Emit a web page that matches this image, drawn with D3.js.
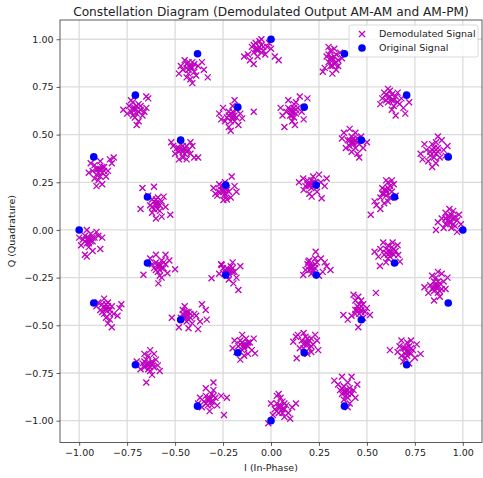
<!DOCTYPE html>
<html>
<head>
<meta charset="utf-8">
<script src="https://d3js.org/d3.v7.min.js"></script>
<style>
  body { margin: 0; background: #fff; }
  text { font-family: "DejaVu Sans", sans-serif; fill: #222; }
</style>
</head>
<body>
<div id="chart"></div>
<script>
// original 32-APSK symbols
var origI = [1.000, 0.924, 0.707, 0.383, 0.000, -0.383, -0.707, -0.924, -1.000, -0.924, -0.707, -0.383, 0.000, 0.383, 0.707, 0.924,
             0.644, 0.471, 0.173, -0.173, -0.471, -0.644, -0.644, -0.471, -0.173, 0.173, 0.471, 0.644,
             0.236, -0.236, -0.236, 0.236];
var origQ = [0.000, 0.383, 0.707, 0.924, 1.000, 0.924, 0.707, 0.383, 0.000, -0.383, -0.707, -0.924, -1.000, -0.924, -0.707, -0.383,
             0.173, 0.471, 0.644, 0.644, 0.471, 0.173, -0.173, -0.471, -0.644, -0.644, -0.471, -0.173,
             0.236, 0.236, -0.236, -0.236];

// demodulated points [I, Q], one line per cluster
var demodulated = [
  [0.93,0.04],[0.95,0.06],[0.91,0.03],[0.97,0.05],[0.94,0.08],[0.89,0.06],[0.96,0.02],[0.92,0.07],[0.98,0.08],[0.90,0.01],[0.94,0.01],[0.87,0.04],[0.99,0.03],[0.95,0.10],[0.91,0.09],[0.86,0.00],[0.97,-0.01],[0.93,0.11],[0.92,0.05],[0.94,0.04],[0.93,0.07],[0.95,0.03],[0.91,0.06],[0.96,0.07],
  [0.85,0.41],[0.87,0.43],[0.83,0.39],[0.88,0.38],[0.81,0.42],[0.86,0.46],[0.90,0.42],[0.79,0.37],[0.84,0.45],[0.89,0.47],[0.82,0.36],[0.92,0.44],[0.86,0.35],[0.80,0.45],[0.87,0.49],[0.78,0.40],[0.91,0.39],[0.84,0.33],[0.84,0.42],[0.86,0.40],[0.85,0.43],[0.83,0.41],[0.87,0.41],[0.85,0.38],
  [0.63,0.68],[0.65,0.70],[0.61,0.67],[0.64,0.65],[0.60,0.71],[0.67,0.66],[0.62,0.73],[0.66,0.72],[0.58,0.69],[0.69,0.64],[0.63,0.63],[0.61,0.74],[0.68,0.69],[0.57,0.66],[0.70,0.61],[0.65,0.60],[0.59,0.72],[0.72,0.67],[0.62,0.70],[0.64,0.68],[0.61,0.69],[0.63,0.71],[0.60,0.68],[0.66,0.67],
  [0.32,0.90],[0.34,0.92],[0.30,0.88],[0.33,0.87],[0.31,0.94],[0.35,0.89],[0.29,0.91],[0.33,0.95],[0.36,0.93],[0.28,0.85],[0.31,0.86],[0.34,0.84],[0.30,0.96],[0.37,0.90],[0.27,0.83],[0.32,0.82],[0.35,0.86],[0.32,0.89],[0.33,0.91],[0.31,0.90],[0.34,0.88],[0.30,0.92],[0.32,0.86],
  [-0.07,0.95],[-0.05,0.97],[-0.09,0.93],[-0.04,0.94],[-0.10,0.96],[-0.06,0.99],[-0.02,0.96],[-0.08,0.98],[-0.12,0.92],[-0.03,0.92],[-0.07,0.91],[-0.11,0.89],[0.00,0.95],[-0.14,0.91],[0.02,0.91],[-0.09,0.87],[0.04,0.89],[-0.05,1.00],[-0.01,0.98],[-0.07,0.94],[-0.06,0.96],[-0.08,0.95],[-0.05,0.93],[-0.09,0.97],[-0.04,0.96],
  [-0.42,0.85],[-0.44,0.87],[-0.40,0.83],[-0.43,0.82],[-0.45,0.89],[-0.41,0.88],[-0.46,0.84],[-0.38,0.86],[-0.42,0.79],[-0.44,0.80],[-0.39,0.81],[-0.47,0.86],[-0.36,0.88],[-0.35,0.84],[-0.41,0.77],[-0.48,0.82],[-0.33,0.80],[-0.42,0.86],[-0.43,0.84],[-0.41,0.85],[-0.44,0.85],[-0.40,0.87],[-0.43,0.88],
  [-0.71,0.64],[-0.69,0.66],[-0.73,0.62],[-0.70,0.61],[-0.72,0.67],[-0.68,0.63],[-0.74,0.65],[-0.71,0.59],[-0.67,0.60],[-0.75,0.61],[-0.69,0.57],[-0.65,0.64],[-0.77,0.63],[-0.70,0.55],[-0.64,0.69],[-0.73,0.68],[-0.66,0.62],[-0.65,0.70],[-0.71,0.63],[-0.70,0.65],[-0.72,0.64],[-0.69,0.62],[-0.72,0.60],[-0.68,0.65],
  [-0.90,0.32],[-0.92,0.34],[-0.88,0.30],[-0.91,0.29],[-0.93,0.31],[-0.87,0.33],[-0.89,0.36],[-0.85,0.31],[-0.94,0.35],[-0.86,0.28],[-0.90,0.26],[-0.83,0.35],[-0.84,0.37],[-0.92,0.27],[-0.95,0.30],[-0.88,0.24],[-0.82,0.38],[-0.91,0.23],[-0.89,0.32],[-0.90,0.30],[-0.88,0.33],[-0.91,0.32],[-0.87,0.31],[-0.89,0.28],
  [-0.95,-0.05],[-0.97,-0.03],[-0.93,-0.06],[-0.96,-0.07],[-0.94,-0.02],[-0.98,-0.05],[-0.92,-0.04],[-0.95,-0.09],[-0.99,-0.08],[-0.91,-0.01],[-0.96,0.00],[-0.93,-0.11],[-0.97,-0.13],[-0.90,-0.03],[-0.88,-0.04],[-1.00,-0.04],[-0.96,-0.14],[-0.89,-0.10],[-0.95,-0.04],[-0.94,-0.06],[-0.96,-0.05],[-0.93,-0.04],[-0.97,-0.06],[-0.95,-0.07],
  [-0.86,-0.41],[-0.88,-0.39],[-0.84,-0.42],[-0.87,-0.44],[-0.85,-0.38],[-0.89,-0.42],[-0.83,-0.40],[-0.86,-0.46],[-0.90,-0.38],[-0.82,-0.44],[-0.87,-0.36],[-0.84,-0.47],[-0.79,-0.41],[-0.80,-0.45],[-0.85,-0.49],[-0.91,-0.40],[-0.83,-0.51],[-0.78,-0.39],[-0.86,-0.42],[-0.85,-0.40],[-0.87,-0.41],[-0.84,-0.44],[-0.88,-0.43],[-0.86,-0.39],
  [-0.64,-0.71],[-0.62,-0.69],[-0.66,-0.72],[-0.63,-0.74],[-0.65,-0.68],[-0.61,-0.72],[-0.67,-0.70],[-0.64,-0.66],[-0.60,-0.68],[-0.68,-0.73],[-0.62,-0.76],[-0.66,-0.65],[-0.59,-0.71],[-0.70,-0.69],[-0.63,-0.63],[-0.58,-0.74],[-0.65,-0.80],[-0.61,-0.65],[-0.64,-0.70],[-0.63,-0.72],[-0.65,-0.71],[-0.62,-0.70],[-0.66,-0.69],[-0.64,-0.73],
  [-0.32,-0.89],[-0.34,-0.87],[-0.30,-0.90],[-0.33,-0.92],[-0.31,-0.86],[-0.35,-0.90],[-0.29,-0.88],[-0.36,-0.93],[-0.32,-0.95],[-0.28,-0.92],[-0.30,-0.84],[-0.37,-0.88],[-0.26,-0.87],[-0.34,-0.83],[-0.30,-0.80],[-0.23,-0.88],[-0.245,-0.97],[-0.38,-0.91],[-0.32,-0.88],[-0.31,-0.90],[-0.33,-0.89],[-0.30,-0.87],[-0.34,-0.91],[-0.31,-0.92],
  [0.05,-0.93],[0.03,-0.91],[0.07,-0.94],[0.04,-0.96],[0.06,-0.90],[0.02,-0.94],[0.08,-0.92],[0.05,-0.88],[0.01,-0.97],[0.09,-0.96],[0.03,-0.87],[0.11,-0.93],[0.00,-0.91],[0.13,-0.91],[0.07,-0.98],[0.10,-0.99],[0.04,-0.86],[-0.014,-1.014],[0.05,-0.92],[0.06,-0.94],[0.04,-0.93],[0.07,-0.91],[0.03,-0.95],[0.06,-0.96],
  [0.39,-0.85],[0.41,-0.83],[0.37,-0.86],[0.40,-0.88],[0.38,-0.82],[0.42,-0.86],[0.36,-0.84],[0.40,-0.80],[0.43,-0.84],[0.38,-0.89],[0.35,-0.81],[0.44,-0.88],[0.41,-0.91],[0.33,-0.79],[0.42,-0.77],[0.37,-0.77],[0.45,-0.81],[0.40,-0.93],[0.39,-0.84],[0.40,-0.86],[0.38,-0.85],[0.41,-0.85],[0.39,-0.87],[0.37,-0.83],
  [0.71,-0.64],[0.69,-0.62],[0.73,-0.65],[0.70,-0.67],[0.72,-0.61],[0.68,-0.66],[0.74,-0.63],[0.71,-0.59],[0.67,-0.61],[0.75,-0.67],[0.69,-0.69],[0.73,-0.58],[0.76,-0.60],[0.66,-0.64],[0.78,-0.65],[0.62,-0.63],[0.72,-0.70],[0.68,-0.58],[0.71,-0.63],[0.70,-0.65],[0.72,-0.64],[0.70,-0.62],[0.73,-0.62],[0.71,-0.66],
  [0.86,-0.30],[0.88,-0.28],[0.84,-0.31],[0.87,-0.33],[0.85,-0.27],[0.89,-0.31],[0.83,-0.29],[0.86,-0.25],[0.90,-0.27],[0.82,-0.33],[0.88,-0.35],[0.84,-0.24],[0.91,-0.31],[0.80,-0.30],[0.87,-0.22],[0.92,-0.25],[0.85,-0.37],[0.89,-0.23],[0.86,-0.29],[0.87,-0.30],[0.85,-0.30],[0.87,-0.27],[0.85,-0.32],[0.88,-0.32],
  [0.60,0.21],[0.62,0.23],[0.59,0.19],[0.61,0.25],[0.63,0.20],[0.58,0.22],[0.60,0.26],[0.64,0.24],[0.57,0.17],[0.62,0.17],[0.59,0.14],[0.55,0.13],[0.57,0.11],[0.61,0.15],[0.65,0.18],[0.52,0.08],[0.63,0.26],[0.54,0.15],[0.60,0.20],[0.61,0.22],[0.59,0.21],[0.62,0.21],[0.60,0.18],[0.58,0.19],
  [0.43,0.46],[0.45,0.48],[0.41,0.44],[0.44,0.43],[0.42,0.49],[0.46,0.45],[0.40,0.47],[0.44,0.51],[0.47,0.49],[0.39,0.43],[0.42,0.41],[0.45,0.40],[0.37,0.48],[0.48,0.43],[0.41,0.53],[0.46,0.38],[0.50,0.46],[0.38,0.51],[0.43,0.45],[0.44,0.47],[0.42,0.46],[0.45,0.46],[0.43,0.48],[0.41,0.47],
  [0.11,0.63],[0.13,0.61],[0.09,0.64],[0.12,0.66],[0.10,0.60],[0.14,0.64],[0.08,0.62],[0.09,0.68],[0.15,0.70],[0.19,0.69],[0.05,0.64],[0.07,0.54],[0.125,0.55],[0.17,0.58],[0.11,0.57],[0.16,0.62],[0.06,0.60],[0.13,0.67],[0.11,0.62],[0.12,0.64],[0.10,0.63],[0.13,0.63],[0.11,0.60],[0.12,0.59],
  [-0.20,0.60],[-0.22,0.62],[-0.18,0.59],[-0.21,0.57],[-0.19,0.68],[-0.27,0.61],[-0.25,0.64],[-0.09,0.62],[-0.22,0.54],[-0.17,0.55],[-0.15,0.585],[-0.23,0.59],[-0.18,0.63],[-0.24,0.57],[-0.20,0.65],[-0.16,0.61],[-0.26,0.58],[-0.21,0.52],[-0.20,0.59],[-0.21,0.61],[-0.19,0.60],[-0.22,0.60],[-0.20,0.62],[-0.19,0.57],
  [-0.46,0.42],[-0.44,0.44],[-0.48,0.41],[-0.45,0.40],[-0.47,0.45],[-0.43,0.42],[-0.49,0.43],[-0.46,0.38],[-0.42,0.46],[-0.51,0.44],[-0.50,0.40],[-0.44,0.37],[-0.40,0.38],[-0.38,0.38],[-0.42,0.40],[-0.48,0.37],[-0.52,0.46],[-0.41,0.44],[-0.46,0.41],[-0.45,0.43],[-0.47,0.42],[-0.44,0.41],[-0.46,0.44],[-0.48,0.43],
  [-0.60,0.14],[-0.62,0.16],[-0.58,0.13],[-0.61,0.11],[-0.59,0.17],[-0.63,0.13],[-0.57,0.15],[-0.61,0.227],[-0.67,0.22],[-0.68,0.11],[-0.60,0.06],[-0.525,0.08],[-0.56,0.175],[-0.62,0.09],[-0.58,0.10],[-0.55,0.12],[-0.64,0.18],[-0.57,0.07],[-0.60,0.13],[-0.61,0.15],[-0.59,0.14],[-0.60,0.16],[-0.59,0.11],[-0.62,0.12],
  [-0.58,-0.19],[-0.60,-0.17],[-0.56,-0.20],[-0.59,-0.22],[-0.57,-0.16],[-0.61,-0.20],[-0.55,-0.18],[-0.60,-0.13],[-0.55,-0.13],[-0.665,-0.235],[-0.587,-0.28],[-0.50,-0.206],[-0.54,-0.227],[-0.62,-0.18],[-0.58,-0.24],[-0.63,-0.15],[-0.53,-0.16],[-0.57,-0.25],[-0.58,-0.18],[-0.57,-0.20],[-0.59,-0.19],[-0.58,-0.21],[-0.56,-0.17],[-0.60,-0.21],
  [-0.45,-0.45],[-0.43,-0.43],[-0.47,-0.46],[-0.44,-0.48],[-0.42,-0.46],[-0.46,-0.42],[-0.40,-0.44],[-0.36,-0.39],[-0.34,-0.42],[-0.335,-0.47],[-0.38,-0.52],[-0.43,-0.515],[-0.48,-0.51],[-0.517,-0.46],[-0.41,-0.49],[-0.39,-0.45],[-0.45,-0.40],[-0.37,-0.48],[-0.44,-0.45],[-0.43,-0.47],[-0.45,-0.46],[-0.42,-0.44],[-0.46,-0.44],[-0.44,-0.43],
  [-0.14,-0.60],[-0.16,-0.58],[-0.12,-0.61],[-0.15,-0.63],[-0.13,-0.57],[-0.17,-0.61],[-0.11,-0.59],[-0.15,-0.55],[-0.18,-0.64],[-0.10,-0.63],[-0.16,-0.68],[-0.083,-0.647],[-0.19,-0.58],[-0.12,-0.65],[-0.09,-0.57],[-0.20,-0.62],[-0.14,-0.66],[-0.14,-0.61],[-0.15,-0.59],[-0.13,-0.60],[-0.14,-0.62],[-0.16,-0.60],[-0.12,-0.59],
  [0.19,-0.59],[0.21,-0.57],[0.17,-0.60],[0.20,-0.62],[0.18,-0.56],[0.22,-0.60],[0.16,-0.58],[0.116,-0.586],[0.246,-0.63],[0.134,-0.673],[0.14,-0.55],[0.23,-0.55],[0.19,-0.65],[0.15,-0.62],[0.24,-0.58],[0.21,-0.64],[0.17,-0.54],[0.13,-0.56],[0.19,-0.60],[0.20,-0.58],[0.18,-0.59],[0.19,-0.57],[0.21,-0.61],[0.17,-0.62],
  [0.47,-0.42],[0.45,-0.40],[0.49,-0.43],[0.46,-0.44],[0.48,-0.39],[0.44,-0.42],[0.50,-0.41],[0.43,-0.34],[0.455,-0.35],[0.547,-0.33],[0.377,-0.446],[0.40,-0.47],[0.455,-0.51],[0.516,-0.446],[0.44,-0.37],[0.47,-0.37],[0.42,-0.45],[0.48,-0.46],[0.46,-0.41],[0.47,-0.43],[0.45,-0.42],[0.47,-0.40],[0.46,-0.39],[0.44,-0.44],
  [0.62,-0.12],[0.60,-0.10],[0.64,-0.13],[0.61,-0.15],[0.63,-0.09],[0.59,-0.13],[0.65,-0.11],[0.585,-0.066],[0.634,-0.066],[0.54,-0.114],[0.568,-0.189],[0.672,-0.166],[0.663,-0.131],[0.57,-0.10],[0.60,-0.17],[0.56,-0.14],[0.66,-0.08],[0.61,-0.08],[0.62,-0.11],[0.61,-0.13],[0.63,-0.12],[0.60,-0.12],[0.62,-0.14],[0.64,-0.10],
  [0.20,0.24],[0.22,0.25],[0.18,0.23],[0.21,0.22],[0.19,0.26],[0.23,0.23],[0.25,0.29],[0.168,0.27],[0.146,0.25],[0.212,0.175],[0.264,0.166],[0.29,0.27],[0.24,0.20],[0.17,0.21],[0.22,0.28],[0.26,0.25],[0.20,0.19],[0.28,0.23],[0.21,0.24],[0.20,0.23],[0.22,0.23],[0.21,0.26],[0.19,0.24],[0.23,0.25],
  [-0.25,0.21],[-0.23,0.22],[-0.27,0.20],[-0.24,0.19],[-0.26,0.23],[-0.22,0.20],[-0.205,0.28],[-0.30,0.22],[-0.248,0.157],[-0.18,0.20],[-0.28,0.18],[-0.24,0.25],[-0.21,0.17],[-0.27,0.24],[-0.19,0.23],[-0.23,0.16],[-0.29,0.19],[-0.25,0.20],[-0.24,0.22],[-0.26,0.21],[-0.23,0.21],[-0.25,0.23],[-0.24,0.18],
  [-0.22,-0.21],[-0.24,-0.22],[-0.20,-0.20],[-0.23,-0.24],[-0.21,-0.19],[-0.25,-0.20],[-0.19,-0.22],[-0.31,-0.253],[-0.257,-0.184],[-0.16,-0.19],[-0.196,-0.28],[-0.17,-0.315],[-0.27,-0.23],[-0.22,-0.26],[-0.18,-0.25],[-0.26,-0.18],[-0.20,-0.17],[-0.22,-0.22],[-0.23,-0.20],[-0.21,-0.21],[-0.22,-0.23],[-0.24,-0.21],[-0.20,-0.22],
  [0.21,-0.19],[0.23,-0.20],[0.19,-0.18],[0.22,-0.22],[0.20,-0.16],[0.24,-0.17],[0.233,-0.114],[0.168,-0.236],[0.194,-0.166],[0.26,-0.15],[0.29,-0.19],[0.31,-0.21],[0.27,-0.22],[0.18,-0.21],[0.25,-0.24],[0.21,-0.23],[0.23,-0.15],[0.28,-0.17],[0.21,-0.20],[0.22,-0.19],[0.20,-0.19],[0.22,-0.21],[0.23,-0.18],[0.20,-0.21]
];

var ticks = [-1.00, -0.75, -0.50, -0.25, 0.00, 0.25, 0.50, 0.75, 1.00];

var width = 483, height = 478;
var plotLeft = 60, plotRight = 482, plotTop = 20, plotBottom = 442.4;

var svg = d3.select('#chart').append('svg')
  .attr('width', width)
  .attr('height', height);

var x = d3.scaleLinear().domain([-1.1, 1.1]).range([plotLeft, plotRight]);
var y = d3.scaleLinear().domain([-1.114, 1.101]).range([plotBottom, plotTop]);

// grid
svg.append('g').selectAll('line').data(ticks).enter().append('line')
  .attr('x1', d => x(d)).attr('x2', d => x(d))
  .attr('y1', plotTop).attr('y2', plotBottom)
  .attr('stroke', '#dcdcdc').attr('stroke-width', 1.3);
svg.append('g').selectAll('line').data(ticks).enter().append('line')
  .attr('y1', d => y(d)).attr('y2', d => y(d))
  .attr('x1', plotLeft).attr('x2', plotRight)
  .attr('stroke', '#dcdcdc').attr('stroke-width', 1.3);

// axes
var fmt = d3.format('.2f');
var tickFmt = d => fmt(d).replace('-', '\u2212');
var xAxis = svg.append('g')
  .attr('transform', 'translate(0,' + plotBottom + ')')
  .call(d3.axisBottom(x).tickValues(ticks).tickFormat(tickFmt).tickSizeOuter(0).tickSize(3.5).tickPadding(3));
var yAxis = svg.append('g')
  .attr('transform', 'translate(' + plotLeft + ',0)')
  .call(d3.axisLeft(y).tickValues(ticks).tickFormat(tickFmt).tickSizeOuter(0).tickSize(3.5).tickPadding(3));
[xAxis, yAxis].forEach(function (a) {
  a.select('.domain').remove();
  a.selectAll('.tick line').attr('stroke', '#333').attr('stroke-width', 0.8);
  a.selectAll('.tick text').attr('font-size', 9.5).attr('font-family', 'DejaVu Sans').attr('fill', '#222');
});

// frame
svg.append('rect')
  .attr('x', plotLeft).attr('y', plotTop)
  .attr('width', plotRight - plotLeft).attr('height', plotBottom - plotTop)
  .attr('fill', 'none').attr('stroke', '#333').attr('stroke-width', 0.8);

// demodulated points (x markers)
var s = 3.0;
function xMark(cx, cy) {
  return 'M' + (cx - s) + ',' + (cy - s) + 'L' + (cx + s) + ',' + (cy + s) +
         'M' + (cx - s) + ',' + (cy + s) + 'L' + (cx + s) + ',' + (cy - s);
}
svg.append('g').selectAll('path').data(demodulated).enter().append('path')
  .attr('d', d => xMark(x(d[0]), y(d[1])))
  .attr('stroke', '#bf00bf').attr('stroke-width', 1.3).attr('fill', 'none');

// original points
svg.append('g').selectAll('circle').data(origI).enter().append('circle')
  .attr('cx', (d, i) => x(origI[i]))
  .attr('cy', (d, i) => y(origQ[i]))
  .attr('r', 3.8)
  .attr('fill', '#0000ff');

// title and labels
svg.append('text')
  .attr('x', (plotLeft + plotRight) / 2).attr('y', 15.5)
  .attr('text-anchor', 'middle').attr('font-size', 12.2)
  .text('Constellation Diagram (Demodulated Output AM-AM and AM-PM)');
svg.append('text')
  .attr('x', (plotLeft + plotRight) / 2).attr('y', 471)
  .attr('text-anchor', 'middle').attr('font-size', 9.5)
  .text('I (In-Phase)');
svg.append('text')
  .attr('transform', 'translate(15,' + ((plotTop + plotBottom) / 2) + ') rotate(-90)')
  .attr('text-anchor', 'middle').attr('font-size', 9.5)
  .text('Q (Quadrature)');

// legend
var lg = svg.append('g').attr('transform', 'translate(349,25)');
lg.append('rect')
  .attr('width', 129).attr('height', 32).attr('rx', 2)
  .attr('fill', '#fff').attr('fill-opacity', 0.8)
  .attr('stroke', '#d0d0d0').attr('stroke-width', 0.8);
lg.append('path')
  .attr('d', xMark(13, 9))
  .attr('stroke', '#bf00bf').attr('stroke-width', 1.3);
lg.append('circle').attr('cx', 13).attr('cy', 23).attr('r', 3.8).attr('fill', '#0000ff');
lg.append('text').attr('x', 30).attr('y', 12.3).attr('font-size', 9.5).text('Demodulated Signal');
lg.append('text').attr('x', 30).attr('y', 26.3).attr('font-size', 9.5).text('Original Signal');
</script>
</body>
</html>
